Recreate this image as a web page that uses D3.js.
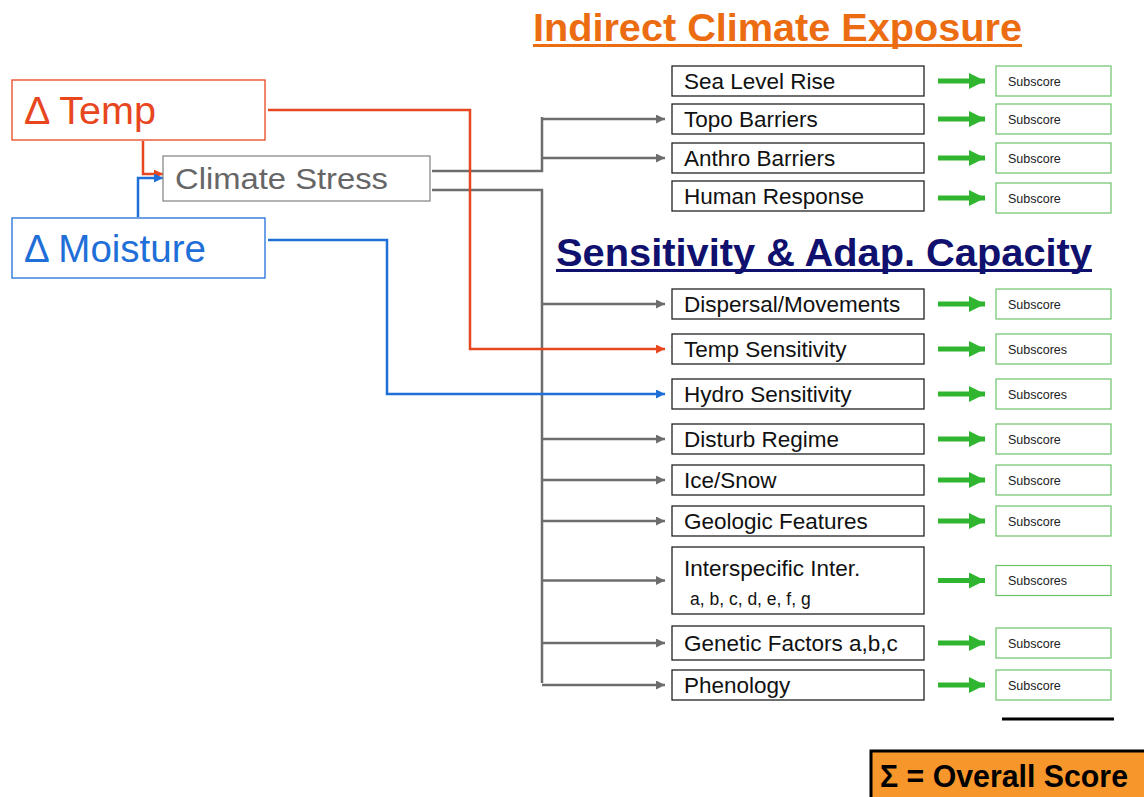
<!DOCTYPE html>
<html>
<head>
<meta charset="utf-8">
<script src="https://cdn.jsdelivr.net/npm/d3@7"></script>
<style>
  body { margin: 0; background: #fff; }
  svg { display: block; font-family: "Liberation Sans", Arial, sans-serif; }
</style>
</head>
<body>
<div id="diagram"></div>
<script>
// factor boxes, top group then sensitivity group
var exposureFactors = ["Sea Level Rise", "Topo Barriers", "Anthro Barriers", "Human Response"]
var exposureScores = ["Subscore", "Subscore", "Subscore", "Subscore"]
var sensitivityFactors = ["Dispersal/Movements", "Temp Sensitivity", "Hydro Sensitivity", "Disturb Regime",
    "Ice/Snow", "Geologic Features", "Interspecific Inter.", "Genetic Factors a,b,c", "Phenology"]
var sensitivityScores = ["Subscore", "Subscores", "Subscores", "Subscore", "Subscore", "Subscore",
    "Subscores", "Subscore", "Subscore"]
// which driver feeds each factor
var exposureSource = [null, "stress", "stress", null]
var sensitivitySource = ["stress", "temp", "moist", "stress", "stress", "stress", "stress", "stress", "stress"]

// layout (top / height of each row)
var exposureRows = [[66, 30], [104, 30], [143, 30], [181, 30]]
var sensitivityRows = [[289, 30], [334, 30], [379, 30], [424, 30], [465, 30], [506, 30], [547, 67], [626, 34], [670, 30]]

var width = 1144, height = 797
var red = "#e8461e", blue = "#1f6fd8", grey = "#6d6d6d", green = "#2fb52f"

var svg = d3.select("#diagram").append("svg")
    .attr("width", width)
    .attr("height", height)

var defs = svg.append("defs")
function marker(id, col, w, h) {
    defs.append("marker")
        .attr("id", id)
        .attr("viewBox", "0 0 10 10")
        .attr("refX", 10).attr("refY", 5)
        .attr("markerWidth", w).attr("markerHeight", h)
        .attr("markerUnits", "userSpaceOnUse")
        .attr("orient", "auto")
        .append("path")
        .attr("d", "M0,0 L10,5 L0,10 Z")
        .attr("fill", col)
}
marker("arr-grey", grey, 10, 9)
marker("arr-red", red, 10, 9)
marker("arr-blue", blue, 10, 9)
marker("arr-green", green, 16, 22)

var lines = svg.append("g").attr("fill", "none").attr("stroke-width", 2.5)
var boxes = svg.append("g")

var boxX = 672, boxW = 252, scoreX = 996, scoreW = 115

// titles
function title(text, x, y, w, col) {
    svg.append("text")
        .attr("x", x).attr("y", y)
        .attr("font-size", 39).attr("font-weight", "bold")
        .attr("fill", col)
        .attr("textLength", w).attr("lengthAdjust", "spacingAndGlyphs")
        .text(text)
    svg.append("rect")
        .attr("x", x).attr("y", y + 3)
        .attr("width", w).attr("height", 3)
        .attr("fill", col)
}
title("Indirect Climate Exposure", 533, 41, 489, "#ec6c12")
title("Sensitivity & Adap. Capacity", 556, 266, 536, "#10106e")

// gray trunk from Climate Stress
var trunkX = 542
lines.append("path")
    .attr("stroke", grey)
    .attr("d", d3.line()([[432, 171], [trunkX, 171], [trunkX, 117]]))
lines.append("path")
    .attr("stroke", grey)
    .attr("d", d3.line()([[432, 190], [trunkX, 190], [trunkX, 683]]))

function rowMid(r) { return r[0] + r[1] / 2 }

var allRows = exposureRows.concat(sensitivityRows)
var allSources = exposureSource.concat(sensitivitySource)
var allFactors = exposureFactors.concat(sensitivityFactors)
var allScores = exposureScores.concat(sensitivityScores)

allRows.forEach(function(r, i) {
    var y = rowMid(r)
    if (allSources[i] === "stress") {
        lines.append("line")
            .attr("x1", trunkX).attr("y1", y).attr("x2", boxX - 7).attr("y2", y)
            .attr("stroke", grey).attr("marker-end", "url(#arr-grey)")
    }
})

// Temp and moisture direct links
var tempRow = sensitivityRows[sensitivitySource.indexOf("temp")]
var moistRow = sensitivityRows[sensitivitySource.indexOf("moist")]
lines.append("path")
    .attr("stroke", red).attr("marker-end", "url(#arr-red)")
    .attr("d", d3.line()([[268, 110], [470, 110], [470, rowMid(tempRow)], [boxX - 7, rowMid(tempRow)]]))
lines.append("path")
    .attr("stroke", blue).attr("marker-end", "url(#arr-blue)")
    .attr("d", d3.line()([[268, 240], [387, 240], [387, rowMid(moistRow)], [boxX - 7, rowMid(moistRow)]]))

// into Climate Stress
lines.append("path")
    .attr("stroke", red).attr("marker-end", "url(#arr-red)")
    .attr("d", d3.line()([[143, 141], [143, 174], [163, 174]]))
lines.append("path")
    .attr("stroke", blue).attr("marker-end", "url(#arr-blue)")
    .attr("d", d3.line()([[138, 217], [138, 178], [163, 178]]))

// left driver boxes
function driver(x, y, w, h, col, txtCol, label, size, tx, tw) {
    boxes.append("rect")
        .attr("x", x).attr("y", y).attr("width", w).attr("height", h)
        .attr("fill", "#fff").attr("stroke", col).attr("stroke-width", 1.3)
    boxes.append("text")
        .attr("x", tx).attr("y", y + h / 2)
        .attr("dy", "0.36em")
        .attr("font-size", size)
        .attr("fill", txtCol)
        .attr("textLength", tw).attr("lengthAdjust", "spacingAndGlyphs")
        .text(label)
}
driver(12, 80, 253, 60, red, red, "\u0394 Temp", 38, 24, 132)
driver(163, 156, 267, 45, "#8a8a8a", "#666", "Climate Stress", 30, 175, 213)
driver(12, 218, 253, 60, blue, blue, "\u0394 Moisture", 38, 24, 182)

// factor boxes + subscores
allRows.forEach(function(r, i) {
    var g = boxes.append("g")
    g.append("rect")
        .attr("x", boxX).attr("y", r[0]).attr("width", boxW).attr("height", r[1])
        .attr("fill", "#fff").attr("stroke", "#222").attr("stroke-width", 1.3)
    var label = g.append("text")
        .attr("x", boxX + 12)
        .attr("font-size", 22.5)
        .attr("fill", "#111")
    if (allFactors[i] === "Interspecific Inter.") {
        label.attr("y", r[0] + 29).text(allFactors[i])
        g.append("text")
            .attr("x", boxX + 18).attr("y", r[0] + 58)
            .attr("font-size", 17.5).attr("fill", "#111")
            .text("a, b, c, d, e, f, g")
    } else {
        label.attr("y", rowMid(r)).attr("dy", "0.36em").text(allFactors[i])
    }

    var y = rowMid(r) + (i === 3 ? 2 : 0)
    g.append("line")
        .attr("x1", 938).attr("y1", y).attr("x2", 985).attr("y2", y)
        .attr("stroke", green).attr("stroke-width", 5)
        .attr("marker-end", "url(#arr-green)")
    g.append("rect")
        .attr("x", scoreX).attr("y", y - 15).attr("width", scoreW).attr("height", 30)
        .attr("fill", "#fff").attr("stroke", "#6cc36c").attr("stroke-width", 1.2)
    g.append("text")
        .attr("x", scoreX + 12).attr("y", y).attr("dy", "0.36em")
        .attr("font-size", 12.5).attr("fill", "#222")
        .text(allScores[i])
})

// sum line and overall score
svg.append("line")
    .attr("x1", 1002).attr("x2", 1114).attr("y1", 719).attr("y2", 719)
    .attr("stroke", "#000").attr("stroke-width", 3)
svg.append("rect")
    .attr("x", 871).attr("y", 751).attr("width", 280).attr("height", 50)
    .attr("fill", "#f7962a").attr("stroke", "#000").attr("stroke-width", 3)
svg.append("text")
    .attr("x", 880).attr("y", 776).attr("dy", "0.36em")
    .attr("font-size", 31).attr("font-weight", "bold").attr("fill", "#000")
    .attr("textLength", 248).attr("lengthAdjust", "spacingAndGlyphs")
    .text("\u03a3 = Overall Score")
</script>
</body>
</html>
